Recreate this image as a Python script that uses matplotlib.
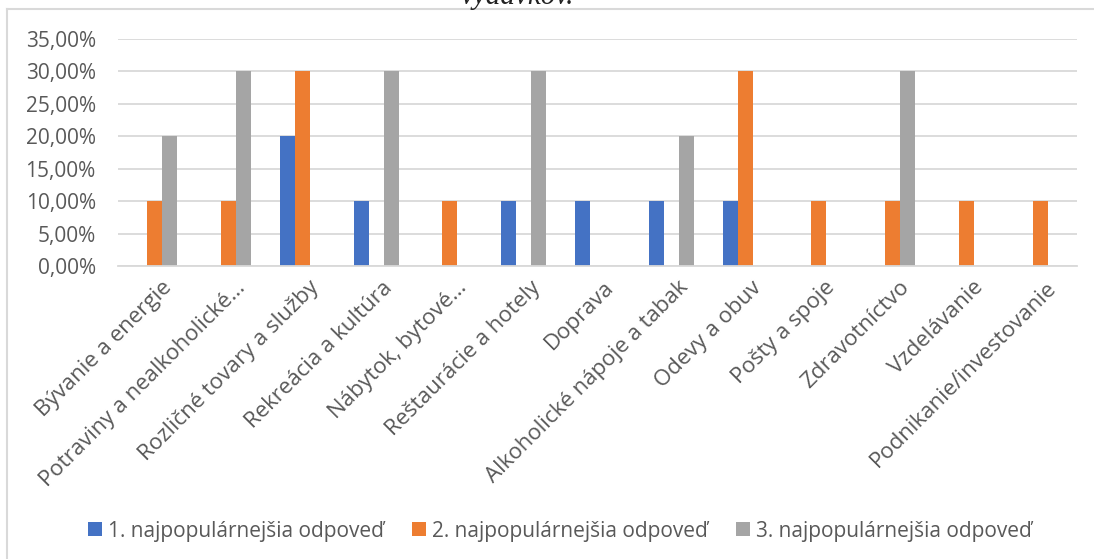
import matplotlib.pyplot as plt
import numpy as np
from matplotlib.lines import Line2D

categories = ['Bývanie a energie', 'Potraviny a nealkoholické…', 'Rozličné tovary a služby',
              'Rekreácia a kultúra', 'Nábytok, bytové…', 'Reštaurácie a hotely', 'Doprava',
              'Alkoholické nápoje a tabak', 'Odevy a obuv', 'Pošty a spoje', 'Zdravotníctvo',
              'Vzdelávanie', 'Podnikanie/investovanie']
first = [0, 0, 20, 10, 0, 10, 10, 10, 10, 0, 0, 0, 0]
second = [10, 10, 30, 0, 10, 0, 0, 0, 30, 10, 10, 10, 10]
third = [20, 30, 0, 30, 0, 30, 0, 20, 0, 0, 30, 0, 0]
series_names = ['1. najpopulárnejšia odpoveď', '2. najpopulárnejšia odpoveď',
                '3. najpopulárnejšia odpoveď']
colors = ['#4472C4', '#ED7D31', '#A5A5A5']
yticks = [0, 5, 10, 15, 20, 25, 30, 35]
ytick_labels = ['0,00%', '5,00%', '10,00%', '15,00%', '20,00%', '25,00%', '30,00%', '35,00%']

plt.rcParams['font.family'] = ['Open Sans', 'DejaVu Sans']
txt = '#595959'
grid = '#D9D9D9'

fig = plt.figure(figsize=(10.94, 5.59), dpi=100)
W, H = 1094, 559
ax = fig.add_axes([118 / W, 1 - 266 / H, (1077 - 118) / W, (266 - 39) / H])

x = np.arange(len(categories))
w = 0.203
for i, vals in enumerate([first, second, third]):
    ax.bar(x + (i - 1) * w, vals, width=w, color=colors[i], label=series_names[i])

ax.set_xlim(-0.5, len(categories) - 0.5)
ax.set_ylim(0, 35)
ax.set_yticks(yticks)
ax.set_yticklabels(ytick_labels, fontsize=15, color=txt)
ax.yaxis.grid(True, color=grid, linewidth=1.3)
ax.set_axisbelow(True)
for s in ['top', 'right', 'left']:
    ax.spines[s].set_visible(False)
ax.spines['bottom'].set_color(grid)
ax.spines['bottom'].set_linewidth(1.3)
ax.tick_params(axis='y', length=0, pad=16)
ax.tick_params(axis='x', length=0, pad=8)
ax.set_xticks(x + 0.08)
ax.set_xticklabels(categories, rotation=45, ha='right', rotation_mode='anchor',
                   fontsize=16, color=txt)

# chart frame (partly cut off at the right/bottom)
fig.add_artist(Line2D([6.5 / W, 1], [1 - 9 / H, 1 - 9 / H], color=grid, linewidth=1.5))
fig.add_artist(Line2D([6.5 / W, 6.5 / W], [0, 1 - 9 / H], color=grid, linewidth=1.5))

# cut-off title from the page above
fig.text(517 / W, 1 - 4 / H, 'výdavkov.', family='Liberation Serif', style='italic',
         fontsize=21, va='baseline', ha='center', color='#222222')

handles, labels = ax.get_legend_handles_labels()
fig.legend(handles, labels, loc='center', bbox_to_anchor=(560 / W, 1 - 531 / H), ncol=3,
           frameon=False, fontsize=15, labelcolor=txt, handlelength=0.67, handleheight=0.67,
           handletextpad=0.29, columnspacing=1.35)

fig.savefig('out.png', dpi=100)
